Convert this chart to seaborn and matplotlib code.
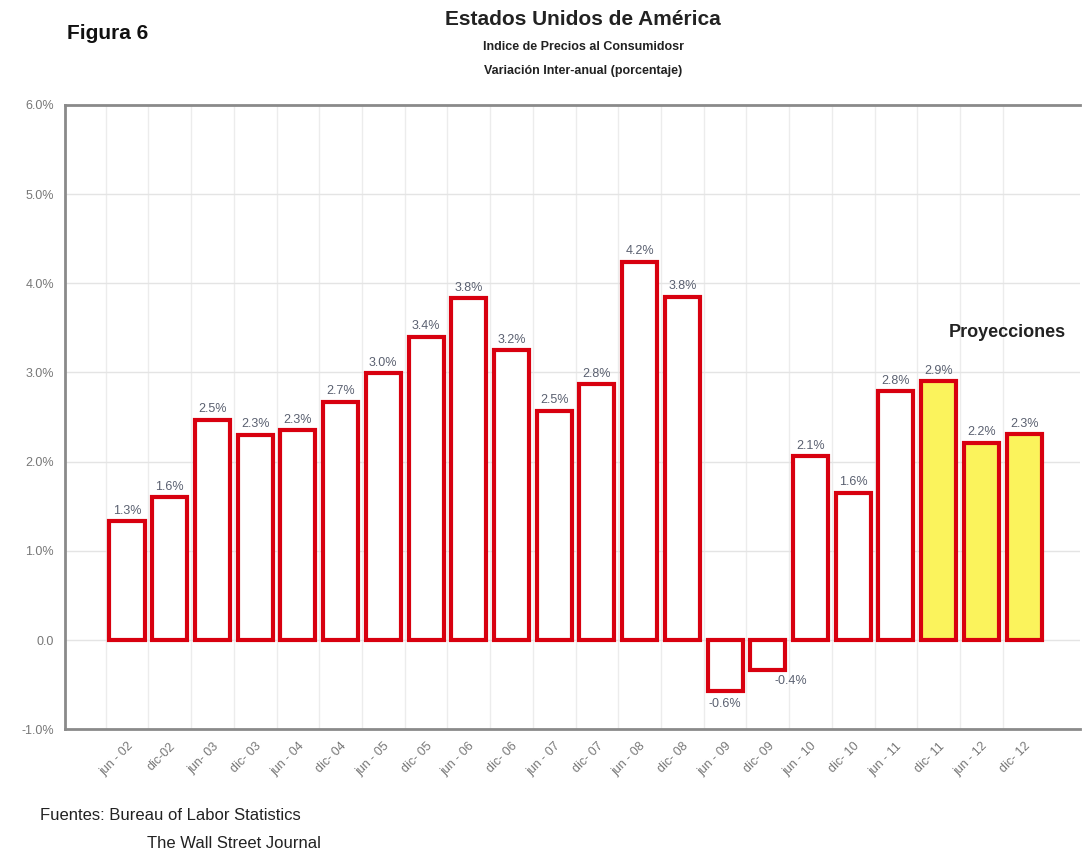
import numpy as np
import pandas as pd
import matplotlib
matplotlib.use("Agg")
import matplotlib.pyplot as plt
import seaborn as sns

periods = ["jun - 02", "dic-02", "jun- 03", "dic- 03", "jun - 04", "dic- 04",
           "jun - 05", "dic- 05", "jun - 06", "dic- 06", "jun - 07", "dic- 07",
           "jun - 08", "dic- 08", "jun - 09", "dic- 09", "jun - 10", "dic- 10",
           "jun - 11", "dic- 11", "jun - 12", "dic- 12"]
cpi = [1.33, 1.60, 2.47, 2.30, 2.35, 2.67, 2.99, 3.40, 3.83, 3.25, 2.57, 2.87,
       4.24, 3.85, -0.57, -0.34, 2.06, 1.65, 2.79, 2.90, 2.21, 2.31]
cpi_labels = ["1.3%", "1.6%", "2.5%", "2.3%", "2.3%", "2.7%", "3.0%", "3.4%",
              "3.8%", "3.2%", "2.5%", "2.8%", "4.2%", "3.8%", "-0.6%", "-0.4%",
              "2.1%", "1.6%", "2.8%", "2.9%", "2.2%", "2.3%"]
kind = ["hist"] * 19 + ["proj"] * 3
yticks = [-1, 0, 1, 2, 3, 4, 5, 6]
ytick_labels = ["-1.0%", "0.0", "1.0%", "2.0%", "3.0%", "4.0%", "5.0%", "6.0%"]

df = pd.DataFrame({"periodo": periods, "cpi": cpi, "tipo": kind})

sns.set_style("white")
plt.rcParams["font.family"] = ["Liberation Sans", "DejaVu Sans"]

fig = plt.figure(figsize=(10.84, 8.52), dpi=100)
ax = fig.add_axes([0.060, 0.144, 0.936, 0.733])

sns.barplot(data=df, x="periodo", y="cpi", hue="tipo",
            palette={"hist": "white", "proj": "#fbf35c"}, saturation=1,
            edgecolor="#d8000f", linewidth=3, width=0.82,
            dodge=False, legend=False, ax=ax)

ax.set_xlim(-1.45, 22.3)
ax.set_ylim(-1, 6)
ax.set_yticks(yticks)
ax.set_yticklabels(ytick_labels, color="#777777", fontsize=9)
ax.set_xticks(range(len(periods)))
ax.set_xticklabels(periods, rotation=45, ha="right", rotation_mode="anchor",
                   color="#777777", fontsize=9)
ax.set_xticks(np.arange(len(periods)) - 0.5, minor=True)
ax.tick_params(axis="x", which="both", length=0, pad=8)
ax.tick_params(axis="y", length=0, pad=8)
ax.set_xlabel("")
ax.set_ylabel("")

ax.grid(axis="y", which="major", color="#e4e4e4", linewidth=1)
ax.grid(axis="x", which="minor", color="#ececec", linewidth=1)
ax.set_axisbelow(True)
for side in ["top", "left", "bottom"]:
    ax.spines[side].set_color("#8a8a8a")
    ax.spines[side].set_linewidth(2)
ax.spines["right"].set_visible(False)

for i, (v, lab) in enumerate(zip(cpi, cpi_labels)):
    if v >= 0:
        ax.text(i, v + 0.05, lab, ha="center", va="bottom", fontsize=9, color="#5a6070")
    elif i == 14:
        ax.text(i, v - 0.08, lab, ha="center", va="top", fontsize=9, color="#5a6070")
    else:
        ax.text(i + 0.55, v - 0.05, lab, ha="center", va="top", fontsize=9, color="#5a6070")

ax.text(20.6, 3.35, "Proyecciones", ha="center", va="bottom", fontsize=13,
        fontweight="bold", color="#222222")

fig.text(0.538, 0.977, "Estados Unidos de América", ha="center", va="center",
         fontsize=15, fontweight="bold", color="#222222")
fig.text(0.538, 0.945, "Indice de Precios al Consumidosr", ha="center", va="center",
         fontsize=9, fontweight="bold", color="#222222")
fig.text(0.538, 0.917, "Variación Inter-anual (porcentaje)", ha="center", va="center",
         fontsize=9, fontweight="bold", color="#222222")
fig.text(0.062, 0.961, "Figura 6", ha="left", va="center", fontsize=15,
         fontweight="bold", color="#111111")
fig.text(0.037, 0.043, "Fuentes: Bureau of Labor Statistics", ha="left", va="center",
         fontsize=12, color="#222222")
fig.text(0.136, 0.010, "The Wall Street Journal", ha="left", va="center",
         fontsize=12, color="#222222")

fig.savefig("out.png", dpi=100, facecolor="white")
